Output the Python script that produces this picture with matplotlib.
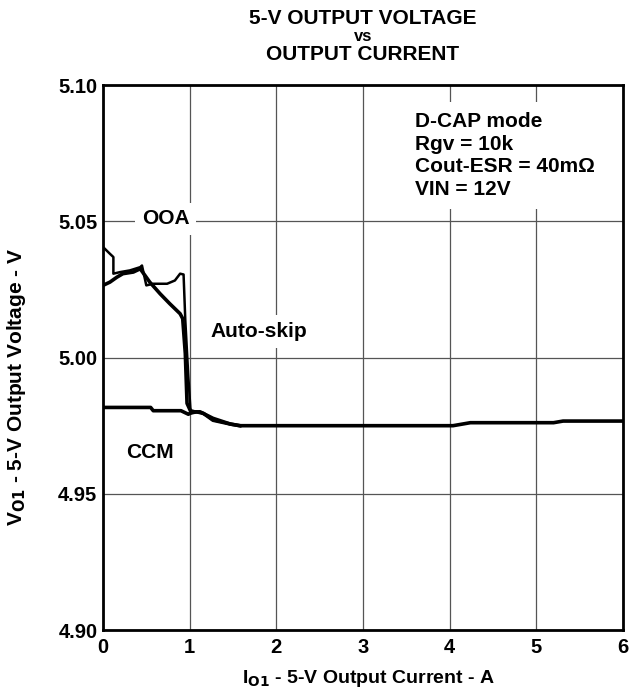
import matplotlib
matplotlib.use('Agg')
import matplotlib.pyplot as plt

plt.rcParams['font.family'] = ['Liberation Sans', 'DejaVu Sans']
plt.rcParams['font.weight'] = 'bold'
plt.rcParams['mathtext.default'] = 'bf'

# OOA curve (starts high at light load)
ooa_i = [0.0, 0.08, 0.12, 0.12, 0.2, 0.31, 0.43, 0.45, 0.50, 0.58, 0.74, 0.83, 0.89, 0.93,
         0.95, 0.985, 1.01, 1.08, 1.16, 1.27, 1.47, 1.58]
ooa_v = [5.0406, 5.0381, 5.0369, 5.0308, 5.0314, 5.032, 5.0332, 5.0338, 5.0265, 5.0271, 5.0271,
         5.0283, 5.0308, 5.0305, 5.0137, 4.993, 4.9807, 4.9801, 4.9795, 4.977, 4.9756, 4.975]

# Auto-skip curve
skip_i = [0.0, 0.08, 0.16, 0.23, 0.35, 0.43, 0.47, 0.54, 0.66, 0.77, 0.89, 0.92, 0.95, 0.97,
          1.02, 1.08, 1.16, 1.27, 1.47, 1.58]
skip_v = [5.0265, 5.0277, 5.0295, 5.0308, 5.0314, 5.0326, 5.0308, 5.0277, 5.0234, 5.0198,
          5.0161, 5.0143, 5.0015, 4.9832, 4.9797, 4.9801, 4.9795, 4.977, 4.9756, 4.975]

# CCM curve
ccm_i = [0.0, 0.55, 0.58, 0.9, 0.985, 1.03, 1.12, 1.27, 1.47, 1.58, 3.78, 4.04, 4.24, 5.2,
         5.31, 6.0]
ccm_v = [4.9817, 4.9817, 4.9805, 4.9805, 4.9792, 4.980, 4.9801, 4.9777, 4.9756, 4.975,
         4.975, 4.975, 4.9761, 4.9761, 4.9767, 4.9767]

x_ticks = [0, 1, 2, 3, 4, 5, 6]
y_ticks = [4.90, 4.95, 5.00, 5.05, 5.10]

fig = plt.figure(figsize=(6.33, 6.98), dpi=100)
ax = fig.add_axes([0.1627, 0.0974, 0.8213, 0.7806])

ax.plot(ooa_i, ooa_v, color='black', lw=1.8, zorder=3)
ax.plot(skip_i, skip_v, color='black', lw=2.6, zorder=3)
ax.plot(ccm_i, ccm_v, color='black', lw=2.6, zorder=3)

ax.set_xlim(0, 6)
ax.set_ylim(4.90, 5.10)
ax.set_xticks(x_ticks)
ax.set_yticks(y_ticks)
ax.set_xticklabels([str(t) for t in x_ticks], fontsize=14.5, fontweight='bold')
ax.set_yticklabels(['%.2f' % t for t in y_ticks], fontsize=14.5, fontweight='bold')
ax.tick_params(axis='x', length=0, pad=6)
ax.tick_params(axis='y', length=0, pad=4)
ax.grid(True, color='#555555', lw=0.9, zorder=1)
for s in ax.spines.values():
    s.set_linewidth(2)

ax.set_xlabel(r'I$_{O1}$ - 5-V Output Current - A', fontsize=14, fontweight='bold')
ax.set_ylabel(r'V$_{O1}$ - 5-V Output Voltage - V', fontsize=15, fontweight='bold')
ax.xaxis.set_label_coords(0.51, -0.07)
ax.yaxis.set_label_coords(-0.145, 0.446)

box = dict(facecolor='white', edgecolor='none', pad=5)
ax.text(0.725, 5.0509, 'OOA', ha='center', va='center', fontsize=15, fontweight='bold', bbox=box, zorder=4)
ax.text(1.235, 5.0095, 'Auto-skip', ha='left', va='center', fontsize=15, fontweight='bold', bbox=box, zorder=4)
ax.text(0.54, 4.965, 'CCM', ha='center', va='center', fontsize=15, fontweight='bold', bbox=box, zorder=4)
ax.text(3.6, 5.0742, 'D-CAP mode\nRgv = 10k\nCout-ESR = 40m\u03a9\nVIN = 12V',
        ha='left', va='center', fontsize=15, fontweight='bold', linespacing=1.25,
        bbox=dict(facecolor='white', edgecolor='none', pad=7), zorder=4)

fig.text(0.573, 0.973, '5-V OUTPUT VOLTAGE', ha='center', va='center', fontsize=15, fontweight='bold')
fig.text(0.573, 0.948, 'vs', ha='center', va='center', fontsize=12, fontweight='bold')
fig.text(0.573, 0.922, 'OUTPUT CURRENT', ha='center', va='center', fontsize=15, fontweight='bold')

fig.savefig('out.png', dpi=100)
